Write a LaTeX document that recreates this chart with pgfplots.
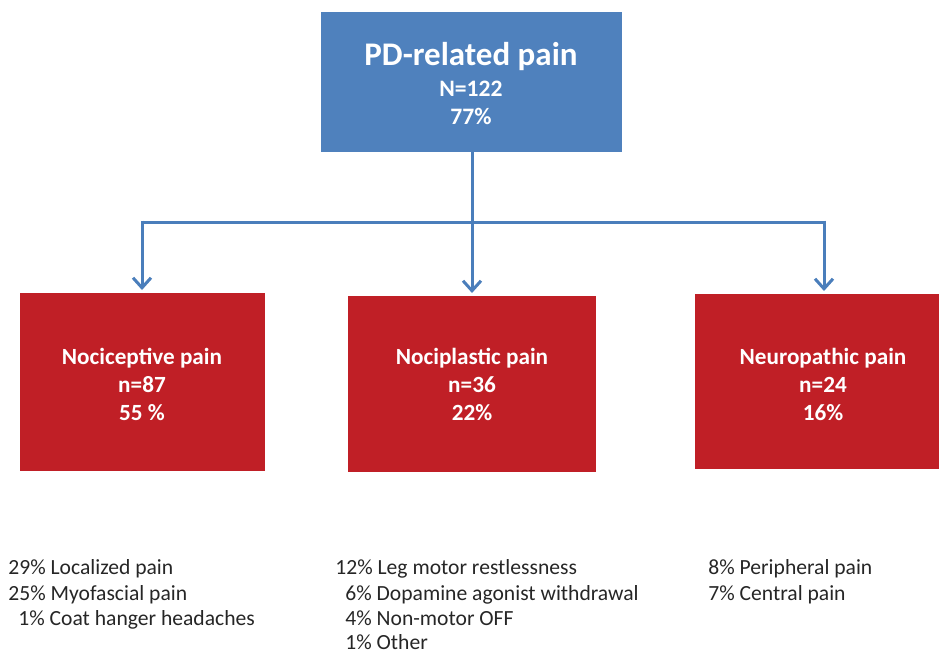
\documentclass[border=0pt]{standalone}
\usepackage{fontspec}
\setmainfont{Carlito}
\usepackage{pgfplots}
\pgfplotsset{compat=1.18}
\usetikzlibrary{arrows.meta}
\definecolor{pdblue}{RGB}{79,129,189}
\definecolor{pdred}{RGB}{192,31,38}
\definecolor{arrowblue}{RGB}{74,126,187}
\begin{document}
\begin{tikzpicture}
\begin{axis}[
  scale only axis, width=469.5pt, height=326.5pt,
  xmin=0, xmax=939, ymin=0, ymax=653, y dir=reverse,
  hide axis, clip=false,
]
% boxes
\addplot[fill=pdblue, draw=none] coordinates {(321,12) (622,12) (622,152) (321,152)} -- cycle;
\addplot[fill=pdred, draw=none] coordinates {(20,293) (265,293) (265,471) (20,471)} -- cycle;
\addplot[fill=pdred, draw=none] coordinates {(348,296) (596,296) (596,472) (348,472)} -- cycle;
\addplot[fill=pdred, draw=none] coordinates {(695,294) (939,294) (939,469) (695,469)} -- cycle;
% connectors
\addplot[arrowblue, line width=1.5pt] coordinates {(472,152) (472,222)};
\addplot[arrowblue, line width=1.5pt] coordinates {(141,222) (825,222)};
\addplot[arrowblue, line width=1.5pt, -{Straight Barb[length=5pt,width=9pt]}] coordinates {(142,220.6) (142,290)};
\addplot[arrowblue, line width=1.5pt, -{Straight Barb[length=5pt,width=9pt]}] coordinates {(472,222) (472,293)};
\addplot[arrowblue, line width=1.5pt, -{Straight Barb[length=5pt,width=9pt]}] coordinates {(824,220.6) (824,291)};
% top box text
\node[anchor=base, text=white, font=\bfseries\fontsize{16.5}{18}\selectfont] at (axis cs:471,65) {PD-related pain};
\node[anchor=base, text=white, font=\bfseries\fontsize{11.8}{13}\selectfont] at (axis cs:471,97) {N=122};
\node[anchor=base, text=white, font=\bfseries\fontsize{11.8}{13}\selectfont] at (axis cs:471,124) {77\%};
% red box texts
\begin{scope}[every node/.style={anchor=base, text=white, font=\bfseries\fontsize{11.6}{13}\selectfont}]
\node at (axis cs:142,364) {Nociceptive pain};
\node at (axis cs:142,392) {n=87};
\node at (axis cs:142,420) {55 \%};
\node at (axis cs:472,364) {Nociplastic pain};
\node at (axis cs:472,392) {n=36};
\node at (axis cs:472,420) {22\%};
\node at (axis cs:823,364) {Neuropathic pain};
\node at (axis cs:823,392) {n=24};
\node at (axis cs:823,420) {16\%};
\end{scope}
% bottom lists
\begin{scope}[every node/.style={anchor=base west, inner sep=0pt, text=black!85, font=\fontsize{10.8}{12}\selectfont}]
\node at (axis cs:8,574) {29\% Localized pain};
\node at (axis cs:8,600) {25\% Myofascial pain};
\node at (axis cs:18,625) {1\% Coat hanger headaches};
\node at (axis cs:335,574) {12\% Leg motor restlessness};
\node at (axis cs:345,600) {6\% Dopamine agonist withdrawal};
\node at (axis cs:345,625) {4\% Non-motor OFF};
\node at (axis cs:345,649) {1\% Other};
\node at (axis cs:708,574) {8\% Peripheral pain};
\node at (axis cs:708,600) {7\% Central pain};
\end{scope}
\path (axis cs:0,0) rectangle (axis cs:939,653);
\end{axis}
\end{tikzpicture}
\end{document}
